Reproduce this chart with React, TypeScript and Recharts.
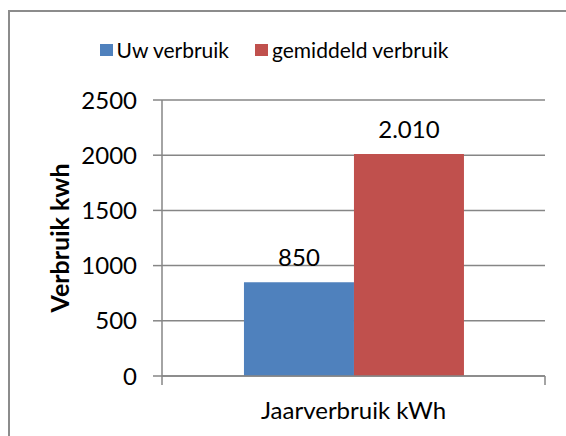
import {
    Bar,
    BarChart,
    CartesianGrid,
    LabelList,
    XAxis,
    YAxis,
    usePlotArea,
} from 'recharts'

const categories = ['Jaarverbruik kWh']
const uwVerbruik = [850]
const gemiddeldVerbruik = [2010]
const yTicks = [0, 500, 1000, 1500, 2000, 2500]

const series = [
    { key: 'uw', name: 'Uw verbruik', color: '#4F81BD' },
    { key: 'gem', name: 'gemiddeld verbruik', color: '#C0504D' },
]

const data = categories.map((c, i) => ({
    category: c,
    uw: uwVerbruik[i],
    gem: gemiddeldVerbruik[i],
}))

const font = 'Lato, "Open Sans", sans-serif'
const gridColor = '#868686'

// Nederlandse notatie: punt als duizendtal-scheiding
const formatNl = (v: number) =>
    String(v).replace(/\B(?=(\d{3})+(?!\d))/g, '.')

// tickstreepjes op de randen van de categorie (zoals Excel)
function EdgeTicks() {
    const area = usePlotArea()
    if (!area) return null
    const bottom = area.y + area.height
    return (
        <g>
            {[area.x, area.x + area.width].map(x => (
                <line
                    key={x}
                    x1={x}
                    x2={x}
                    y1={bottom}
                    y2={bottom + 9}
                    stroke={gridColor}
                    strokeWidth={1.5}
                />
            ))}
        </g>
    )
}

export default function App() {
    return (
        <div
            style={{
                position: 'absolute',
                left: 0,
                top: 0,
                width: 566,
                height: 436,
                overflow: 'hidden',
                background: '#fff',
                fontFamily: font,
            }}
        >
            <div
                style={{
                    position: 'absolute',
                    left: 8,
                    top: 10,
                    width: 600,
                    height: 480,
                    border: '2px solid #8c8c8c',
                    boxSizing: 'border-box',
                }}
            />
            <div
                style={{
                    position: 'absolute',
                    top: 37,
                    left: 0,
                    width: 548,
                    display: 'flex',
                    justifyContent: 'center',
                    gap: 26,
                    fontSize: 21,
                    color: '#000',
                }}
            >
                {series.map(s => (
                    <div key={s.key} style={{ display: 'flex', alignItems: 'center', gap: 4 }}>
                        <span
                            style={{
                                display: 'inline-block',
                                width: 13,
                                height: 12,
                                background: s.color,
                            }}
                        />
                        <span>{s.name}</span>
                    </div>
                ))}
            </div>
            <div style={{ position: 'absolute', left: 0, top: 0 }}>
                <BarChart
                    width={566}
                    height={436}
                    data={data}
                    margin={{ top: 100, right: 21, left: 0, bottom: 0 }}
                    barCategoryGap="21.4%"
                    barGap={0}
                >
                    <CartesianGrid
                        vertical={false}
                        stroke={gridColor}
                        strokeWidth={1.5}
                    />
                    <XAxis
                        dataKey="category"
                        axisLine={{ stroke: gridColor, strokeWidth: 1.5 }}
                        tickLine={false}
                        tickSize={0}
                        tickMargin={26}
                        height={60}
                        tick={{ fill: '#000', fontSize: 24, fontFamily: font }}
                    />
                    <YAxis
                        domain={[0, 2500]}
                        ticks={yTicks}
                        width={162}
                        tickSize={9}
                        tickMargin={16}
                        axisLine={{ stroke: gridColor, strokeWidth: 1.5 }}
                        tickLine={{ stroke: gridColor, strokeWidth: 1.5 }}
                        tick={{ fill: '#000', fontSize: 24, fontFamily: font }}
                        label={{
                            value: 'Verbruik kwh',
                            angle: -90,
                            position: 'insideLeft',
                            offset: 60,
                            style: {
                                textAnchor: 'middle',
                                fill: '#000',
                                fontSize: 25,
                                fontWeight: 700,
                                fontFamily: font,
                            },
                        }}
                    />
                    {series.map(s => (
                        <Bar
                            key={s.key}
                            dataKey={s.key}
                            name={s.name}
                            fill={s.color}
                            isAnimationActive={false}
                        >
                            <LabelList
                                dataKey={s.key}
                                position="top"
                                offset={16}
                                formatter={(v: number) => formatNl(v)}
                                style={{ fill: '#000', fontSize: 24, fontFamily: font }}
                            />
                        </Bar>
                    ))}
                    <EdgeTicks />
                </BarChart>
            </div>
        </div>
    )
}
